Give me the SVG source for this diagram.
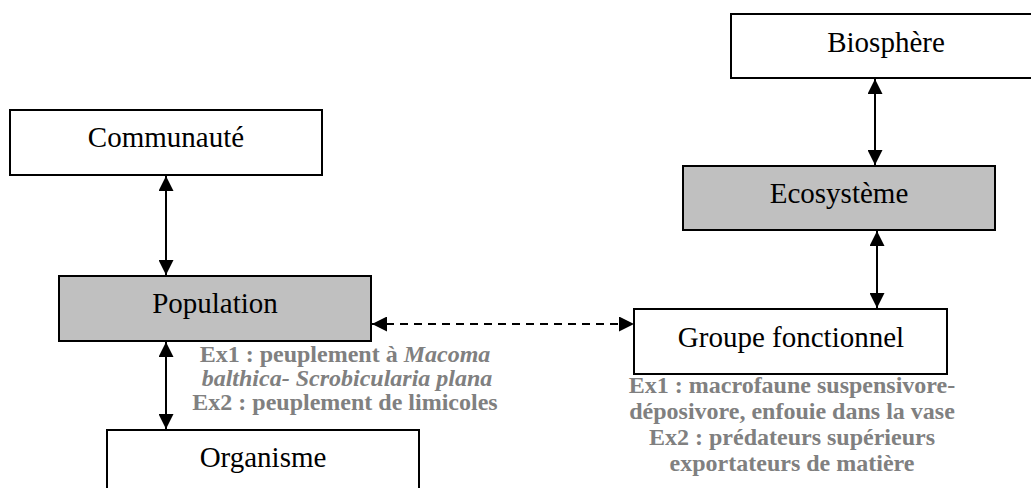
<svg xmlns="http://www.w3.org/2000/svg" width="1031" height="488" viewBox="0 0 1031 488">
<defs>
<style>
.box{fill:#ffffff;stroke:#000000;stroke-width:2}
.grey{fill:#c0c0c0;stroke:#000000;stroke-width:2}
.lbl{font-family:"Liberation Serif","Times New Roman",serif;font-size:29px;fill:#000000;text-anchor:middle}
.ex{font-family:"Liberation Serif","Times New Roman",serif;font-size:24px;font-weight:bold;fill:#808080;text-anchor:middle}
.it{font-style:italic}
.conn{stroke:#000000;stroke-width:2;fill:none}
.dash{stroke-dasharray:8 6}
</style>
<marker id="ah" viewBox="0 0 15 15" refX="15" refY="7.5" markerWidth="15" markerHeight="15" markerUnits="userSpaceOnUse" orient="auto-start-reverse">
<path d="M0,0 L15,7.5 L0,15 Z" fill="#000000"/>
</marker>
</defs>
<rect width="1031" height="488" fill="#ffffff"/>
<g id="connectors">
<line class="conn" x1="166" y1="176" x2="166" y2="275" marker-start="url(#ah)" marker-end="url(#ah)"/>
<line class="conn" x1="166" y1="342" x2="166" y2="429" marker-start="url(#ah)" marker-end="url(#ah)"/>
<line class="conn" x1="875" y1="79" x2="875" y2="165" marker-start="url(#ah)" marker-end="url(#ah)"/>
<line class="conn" x1="877" y1="231" x2="877" y2="308" marker-start="url(#ah)" marker-end="url(#ah)"/>
<line class="conn dash" x1="372" y1="324" x2="634" y2="324" marker-start="url(#ah)" marker-end="url(#ah)"/>
</g>
<g id="communaute">
<rect class="box" x="10" y="110" width="312" height="65"/>
<text class="lbl" x="166" y="147">Communauté</text>
</g>
<g id="population">
<rect class="grey" x="59" y="276" width="312" height="65"/>
<text class="lbl" x="215" y="313">Population</text>
</g>
<g id="organisme">
<rect class="box" x="107" y="430" width="312" height="70"/>
<text class="lbl" x="263" y="467">Organisme</text>
</g>
<g id="biosphere">
<rect class="box" x="731" y="14" width="320" height="64"/>
<text class="lbl" x="886" y="52">Biosphère</text>
</g>
<g id="ecosysteme">
<rect class="grey" x="683" y="166" width="312" height="64"/>
<text class="lbl" x="839" y="203">Ecosystème</text>
</g>
<g id="groupe-fonctionnel">
<rect class="box" x="634" y="309" width="313" height="65"/>
<text class="lbl" x="791" y="347">Groupe fonctionnel</text>
</g>
<g id="population-examples">
<text class="ex" x="345" y="362">Ex1 : peuplement à <tspan class="it">Macoma</tspan></text>
<text class="ex it" x="347" y="386">balthica- Scrobicularia plana</text>
<text class="ex" x="345" y="410">Ex2 : peuplement de limicoles</text>
</g>
<g id="groupe-examples">
<text class="ex" x="792" y="393">Ex1 : macrofaune suspensivore-</text>
<text class="ex" x="792" y="419">déposivore, enfouie dans la vase</text>
<text class="ex" x="792" y="445">Ex2 : prédateurs supérieurs</text>
<text class="ex" x="792" y="471">exportateurs de matière</text>
</g>
</svg>
